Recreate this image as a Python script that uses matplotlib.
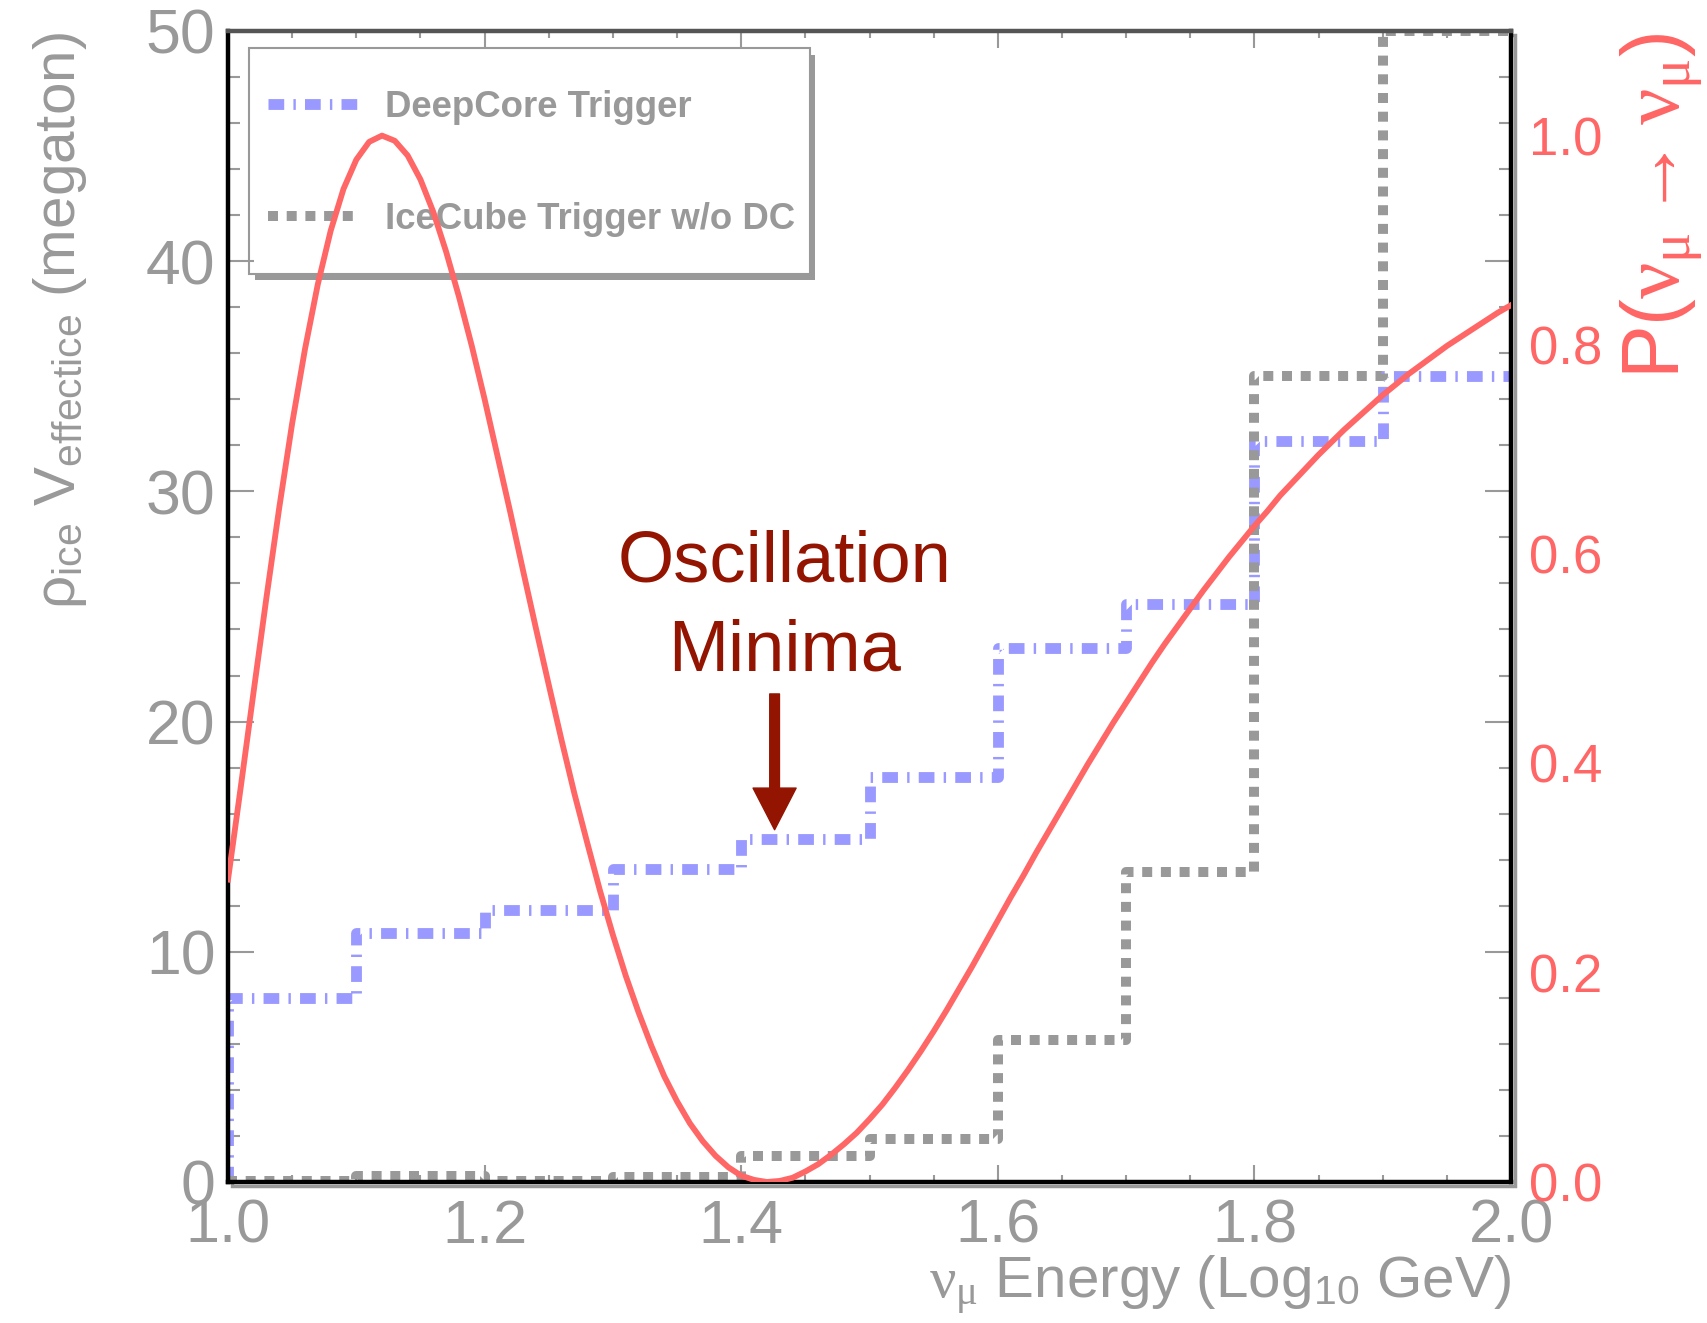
import matplotlib
matplotlib.use("Agg")
import matplotlib.pyplot as plt
from matplotlib.patches import Rectangle
from matplotlib.ticker import MultipleLocator, FormatStrFormatter

plt.rcParams['font.family'] = ['Liberation Sans', 'DejaVu Sans']
plt.rcParams['mathtext.fontset'] = 'custom'
plt.rcParams['mathtext.rm'] = 'Liberation Sans'
plt.rcParams['mathtext.it'] = 'Liberation Serif'
plt.rcParams['mathtext.bf'] = 'Liberation Sans:bold'

# Effective volume per energy bin (log10 GeV)
bin_edges = [1.0, 1.1, 1.2, 1.3, 1.4, 1.5, 1.6, 1.7, 1.8, 1.9, 2.0]
deepcore = [8.0, 10.8, 11.8, 13.6, 14.9, 17.6, 23.2, 25.1, 32.2, 35.0]
icecube_no_dc = [0.05, 0.25, 0.05, 0.2, 1.13, 1.88, 6.16, 13.46, 35.0, 50.0]

# Survival probability P(numu -> numu)
log_energy = [1.00, 1.01, 1.02, 1.03, 1.04, 1.05, 1.06, 1.07, 1.08, 1.09,
              1.10, 1.11, 1.12, 1.13, 1.14, 1.15, 1.16, 1.17, 1.18, 1.19,
              1.20, 1.21, 1.22, 1.23, 1.24, 1.25, 1.26, 1.27, 1.28, 1.29,
              1.30, 1.31, 1.32, 1.33, 1.34, 1.35, 1.36, 1.37, 1.38, 1.39,
              1.40, 1.41, 1.42, 1.43, 1.44, 1.45, 1.46, 1.47, 1.48, 1.49,
              1.50, 1.51, 1.52, 1.53, 1.54, 1.55, 1.56, 1.57, 1.58, 1.59,
              1.60, 1.61, 1.62, 1.63, 1.64, 1.65, 1.66, 1.67, 1.68, 1.69,
              1.70, 1.71, 1.72, 1.73, 1.74, 1.75, 1.76, 1.77, 1.78, 1.79,
              1.80, 1.81, 1.82, 1.83, 1.84, 1.85, 1.86, 1.87, 1.88, 1.89,
              1.90, 1.91, 1.92, 1.93, 1.94, 1.95, 1.96, 1.97, 1.98, 1.99,
              2.00]
survival = [0.289, 0.378, 0.469, 0.559, 0.645, 0.725, 0.796, 0.858, 0.909, 0.949,
            0.977, 0.994, 1.000, 0.995, 0.981, 0.958, 0.927, 0.889, 0.846, 0.799,
            0.748, 0.694, 0.640, 0.584, 0.529, 0.475, 0.422, 0.371, 0.324, 0.278,
            0.236, 0.197, 0.162, 0.130, 0.101, 0.077, 0.056, 0.039, 0.025, 0.014,
            0.006, 0.002, 0.000, 0.001, 0.004, 0.010, 0.017, 0.026, 0.036, 0.047,
            0.060, 0.074, 0.090, 0.107, 0.125, 0.144, 0.164, 0.185, 0.206, 0.228,
            0.250, 0.272, 0.293, 0.315, 0.336, 0.357, 0.378, 0.399, 0.419, 0.439,
            0.458, 0.477, 0.496, 0.514, 0.531, 0.548, 0.565, 0.581, 0.597, 0.612,
            0.627, 0.641, 0.656, 0.669, 0.682, 0.695, 0.707, 0.719, 0.730, 0.741,
            0.752, 0.762, 0.772, 0.781, 0.790, 0.799, 0.807, 0.815, 0.823, 0.831,
            0.838]

GRAY = '#999999'
BLUE = '#9999ff'
RED = '#ff6666'
DARKRED = '#931400'

fig = plt.figure(figsize=(17.08, 13.23), dpi=100)
ax = fig.add_axes([0.1335, 0.1066, 0.7512, 0.8700])

# step histograms, starting from zero at the left edge
sx = [bin_edges[0]] + bin_edges
dc_y = [0] + deepcore + [deepcore[-1]]
ic_y = [0] + icecube_no_dc + [icecube_no_dc[-1]]
l_dc, = ax.step(sx, dc_y, where='post', color=BLUE, lw=7.8,
                linestyle=(0, (1.45, 0.85, 0.22, 0.85)))
l_ic, = ax.step(sx, ic_y, where='post', color=GRAY, lw=7.2,
                linestyle=(0, (1.0, 0.87)))

ax.set_xlim(1.0, 2.0)
ax.set_ylim(0, 50)
ax.xaxis.set_major_locator(MultipleLocator(0.2))
ax.xaxis.set_minor_locator(MultipleLocator(0.05))
ax.yaxis.set_major_locator(MultipleLocator(10))
ax.yaxis.set_minor_locator(MultipleLocator(2))
ax.xaxis.set_major_formatter(FormatStrFormatter('%.1f'))
ax.yaxis.set_major_formatter(FormatStrFormatter('%d'))

for side in ['left', 'right', 'bottom']:
    ax.spines[side].set_linewidth(3.2)
    ax.spines[side].set_color('black')
ax.spines['top'].set_linewidth(3.2)
ax.spines['top'].set_color('#555555')

# legend box drawn by hand (frame + drop shadow), entries without frame
box_x, box_y, box_w, box_h = 0.0163, 0.789, 0.437, 0.196
ax.add_patch(Rectangle((box_x + 0.0045, box_y - 0.0055), box_w, box_h,
                       transform=ax.transAxes, facecolor=GRAY, edgecolor='none',
                       zorder=0.5))
ax.add_patch(Rectangle((box_x, box_y), box_w, box_h, transform=ax.transAxes,
                       facecolor='white', edgecolor=GRAY, lw=1.5, zorder=0.6))
ax.legend([l_dc, l_ic], ['DeepCore Trigger', 'IceCube Trigger w/o DC'],
          loc='upper left', bbox_to_anchor=(0.031, 0.949), borderaxespad=0,
          borderpad=0, frameon=False, prop={'weight': 'bold', 'size': 26.4},
          labelcolor=GRAY, handlelength=2.45, handletextpad=0.75,
          labelspacing=2.11)

ax.text(1.434, 26.1, 'Oscillation', color=DARKRED, fontsize=52,
        ha='center', va='baseline')
ax.text(1.434, 22.2, 'Minima', color=DARKRED, fontsize=52,
        ha='center', va='baseline')
ax.annotate('', xy=(1.426, 15.3), xytext=(1.426, 21.2),
            arrowprops=dict(facecolor=DARKRED, edgecolor=DARKRED, width=7,
                            headwidth=31, headlength=30, shrink=0))

ax.text(-0.1193, 0.999, r'$\mathrm{\rho}_{\mathrm{ice}}$ V$_{\mathrm{effectice}}$ (megaton)',
        transform=ax.transAxes, rotation=90, rotation_mode='anchor',
        ha='right', va='baseline', fontsize=42, color=GRAY)
ax.text(1.0, -0.1009, r'$\nu_{\mu}$ Energy (Log$_{10}$ GeV)',
        transform=ax.transAxes, ha='right', va='baseline', fontsize=42, color=GRAY)

# oscillation probability on the right-hand scale
ax2 = ax.twinx()
ax2.plot(log_energy, survival, color=RED, lw=4.2)
ax2.set_ylim(0, 1.1)
ax2.set_yticks([0.0, 0.2, 0.4, 0.6, 0.8, 1.0])
ax2.yaxis.set_major_formatter(FormatStrFormatter('%.1f'))
ax2.tick_params(axis='y', length=0, labelcolor=RED, labelsize=38, pad=13)
for s in ax2.spines.values():
    s.set_visible(False)
ax2.text(1.1317, 0.999, r'P($\nu_{\mu}\rightarrow\nu_{\mu}$)',
         transform=ax.transAxes, rotation=90, rotation_mode='anchor',
         ha='right', va='baseline', fontsize=58, color=RED)

ax.tick_params(axis='both', which='both', direction='in', top=True, right=True,
               color=GRAY, width=1.5, labelcolor=GRAY)
ax.tick_params(axis='y', which='major', length=19, pad=9, labelsize=45)
ax.tick_params(axis='y', which='minor', length=8.6)
ax.tick_params(axis='x', which='major', length=12, pad=12, labelsize=44)
ax.tick_params(axis='x', which='minor', length=5)

# frame shadow along right and bottom
fig.patches.append(Rectangle((0.1335 + 0.0025, 0.1066 - 0.003), 0.7512, 0.8700,
                             transform=fig.transFigure, facecolor='none',
                             edgecolor=GRAY, lw=2.5, zorder=-1))

fig.savefig('out.png', dpi=100)
